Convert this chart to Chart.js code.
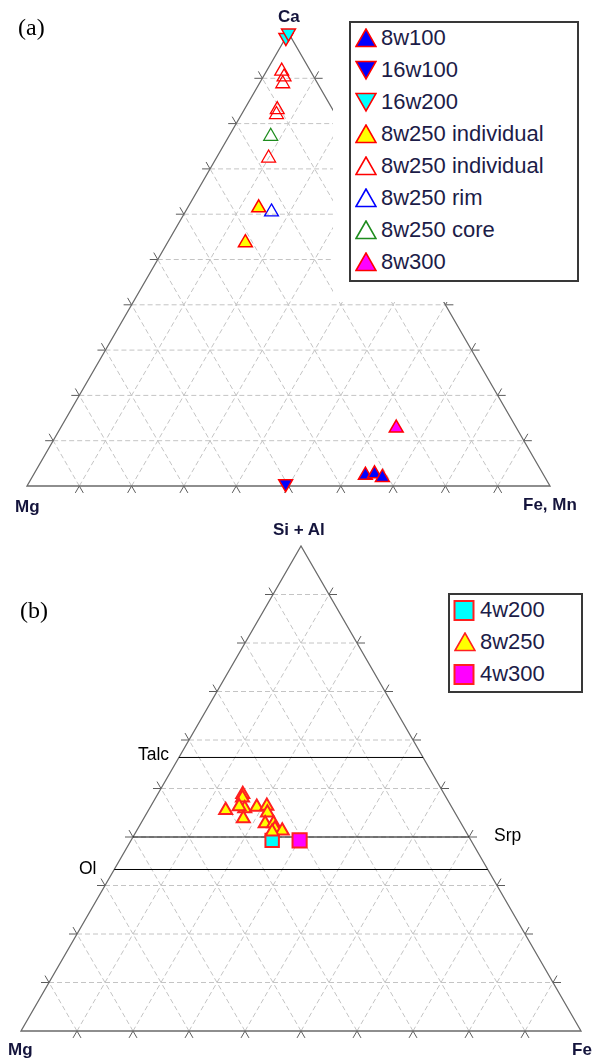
<!DOCTYPE html>
<html><head><meta charset="utf-8">
<script src="https://cdn.jsdelivr.net/npm/chart.js@4.4.1/dist/chart.umd.min.js"></script>
<style>
body{margin:0;width:598px;height:1062px;position:relative;background:#fff;overflow:hidden;font-family:"Liberation Sans",Arial,sans-serif}
canvas{position:absolute;left:0}
.lbl{position:absolute;line-height:1;white-space:nowrap}
.ax{font-weight:bold;font-size:17px;color:#14143c}
.pn{font-family:"Liberation Serif","Times New Roman",serif;font-size:24px;color:#000}
.mn{font-size:17.5px;color:#000}
.cover{position:absolute;background:#fff}
.lg{position:absolute;box-sizing:border-box;border:2px solid #383838;background:#fff}
.row{position:absolute;left:0;height:32px;line-height:32px;font-size:22px;color:#1c1c48;white-space:nowrap}
.row svg{position:absolute;top:6px}
.row span{position:absolute;left:30px;top:0}
</style></head><body>
<canvas id="ca" width="598" height="520" style="top:0"></canvas>
<canvas id="cb" width="598" height="542" style="top:520px"></canvas>

<div class="cover" style="left:333px;top:0;width:265px;height:302px"></div>
<div class="lg" id="legA" style="left:349px;top:21px;width:230px;height:261px"></div>
<div class="lg" id="legB" style="left:448px;top:593px;width:135px;height:100px"></div>

<div class="lbl pn" style="left:18px;top:15px">(a)</div>
<div class="lbl pn" style="left:20px;top:598px">(b)</div>
<div class="lbl ax" style="left:278px;top:8px">Ca</div>
<div class="lbl ax" style="left:15px;top:498px">Mg</div>
<div class="lbl ax" style="left:523px;top:496px">Fe, Mn</div>
<div class="lbl ax" style="left:273px;top:521px">Si + Al</div>
<div class="lbl ax" style="left:8px;top:1041px">Mg</div>
<div class="lbl ax" style="left:572px;top:1041px">Fe</div>
<div class="lbl mn" id="mTalc" style="left:138px;top:746px"></div>
<div class="lbl mn" id="mSrp" style="left:494px;top:827px"></div>
<div class="lbl mn" id="mOl" style="left:79px;top:860px"></div>

<script>
// ---------- DATA: diagram (a)  Ca (top) / Fe,Mn (right) fractions ----------
const seriesNamesA = ['8w100','16w100','16w200','8w250 individual','8w250 individual','8w250 rim','8w250 core','8w300'];
const ca_8w100 = [0.024, 0.027, 0.019];
const fe_8w100 = [0.635, 0.651, 0.670];
const ca_16w100 = [0.005];
const fe_16w100 = [0.492];
const ca_16w200 = [0.990, 1.000];
const fe_16w200 = [0.000, 0.000];
const ca_8w250_fill = [0.614, 0.537];
const fe_8w250_fill = [0.136, 0.149];
const ca_8w250_open = [0.916, 0.903, 0.888, 0.831, 0.820, 0.724];
const fe_8w250_open = [0.029, 0.040, 0.045, 0.063, 0.067, 0.100];
const ca_8w250_rim = [0.605];
const fe_8w250_rim = [0.165];
const ca_8w250_core = [0.772];
const fe_8w250_core = [0.080];
const ca_8w300 = [0.128];
const fe_8w300 = [0.642];

// ---------- DATA: diagram (b)  Si+Al (top) / Fe (right) fractions ----------
const seriesNamesB = ['4w200','8w250','4w300'];
const si_4w200 = [0.393];
const fe_4w200 = [0.252];
const si_8w250 = [0.488,0.481,0.455,0.459,0.463,0.438,0.462,0.464,0.450,0.428,0.428,0.417,0.413,0.411];
const fe_8w250 = [0.152,0.155,0.138,0.170,0.158,0.178,0.190,0.207,0.215,0.222,0.237,0.245,0.260,0.243];
const si_4w300 = [0.393];
const fe_4w300 = [0.301];
const mineralNames = ['Talc','Srp','Ol'];
const mineralSiAl = [0.564, 0.400, 0.333];

const gridSteps = [0.1,0.2,0.3,0.4,0.5,0.6,0.7,0.8,0.9];

// ---------- helpers ----------
const H = Math.sqrt(3)/2;
function toXY(top, right){ return {x: right + top/2, y: top*H}; }
function pts(topArr, rightArr){ return topArr.map((t,i)=>toXY(t, rightArr[i])); }

const gridPlugin = {
  id:'tgrid',
  beforeDatasetsDraw(chart){
    const ctx = chart.ctx, xs = chart.scales.x, ys = chart.scales.y;
    const P = (t,r)=>{const q = toXY(t,r); return [xs.getPixelForValue(q.x), ys.getPixelForValue(q.y)];};
    const lines = [];
    gridSteps.forEach(f=>{
      lines.push([P(f,0), P(f,1-f)]);
      lines.push([P(0,f), P(1-f,f)]);
      lines.push([P(0,1-f), P(1-f,0)]);
    });
    ctx.save();
    ctx.lineWidth = 1;
    ctx.strokeStyle = '#c4c4c4';
    ctx.setLineDash([5,3]);
    lines.forEach(([a,b])=>{ctx.beginPath();ctx.moveTo(a[0],a[1]);ctx.lineTo(b[0],b[1]);ctx.stroke();});
    ctx.setLineDash([]);
    ctx.strokeStyle = '#5c5c5c';
    const L = 8;
    lines.forEach(([a,b])=>{
      const dx=b[0]-a[0], dy=b[1]-a[1], len=Math.hypot(dx,dy), ux=dx/len, uy=dy/len;
      ctx.beginPath();
      ctx.moveTo(a[0],a[1]); ctx.lineTo(a[0]-ux*L, a[1]-uy*L);
      ctx.moveTo(b[0],b[1]); ctx.lineTo(b[0]+ux*L, b[1]+uy*L);
      ctx.stroke();
    });
    ctx.strokeStyle = '#6a6a6a';
    ctx.lineWidth = 1.3;
    const A=P(1,0), B=P(0,1), C=P(0,0);
    ctx.beginPath(); ctx.moveTo(C[0],C[1]); ctx.lineTo(A[0],A[1]); ctx.lineTo(B[0],B[1]); ctx.closePath(); ctx.stroke();
    ctx.restore();
  }
};

function ds(label, data, fill, border, opts){
  return Object.assign({label, data, backgroundColor: fill, borderColor: border, pointBackgroundColor: fill,
    pointBorderColor: border, pointStyle:'triangle', pointRotation:0, pointRadius:8, pointBorderWidth:1.5,
    showLine:false, clip:false}, opts||{});
}
function baseOptions(pad){
  return {
    responsive:false, animation:false, devicePixelRatio:1, events:[],
    layout:{padding:pad},
    scales:{
      x:{type:'linear', min:0, max:1, display:false},
      y:{type:'linear', min:0, max:H, display:false}
    },
    plugins:{legend:{display:false}, tooltip:{enabled:false}}
  };
}

// ---------- chart (a) ----------
const dsA = [
  ds(seriesNamesA[0], pts(ca_8w100, fe_8w100), '#0000ff', '#ff0000', {order:1}),
  ds(seriesNamesA[1], pts(ca_16w100, fe_16w100), '#0000ff', '#ff0000', {pointRotation:180, order:2}),
  ds(seriesNamesA[2], pts(ca_16w200, fe_16w200), '#00ffff', '#ff0000', {pointRotation:180, order:3}),
  ds(seriesNamesA[3], pts(ca_8w250_fill, fe_8w250_fill), '#ffff00', '#ff0000', {order:4}),
  ds(seriesNamesA[4], pts(ca_8w250_open, fe_8w250_open), 'rgba(0,0,0,0)', '#ff0000', {order:5, pointBorderWidth:1.3}),
  ds(seriesNamesA[5], pts(ca_8w250_rim, fe_8w250_rim), 'rgba(0,0,0,0)', '#0000ff', {order:6, pointBorderWidth:1.3}),
  ds(seriesNamesA[6], pts(ca_8w250_core, fe_8w250_core), 'rgba(0,0,0,0)', '#1e8c1e', {order:7, pointBorderWidth:1.3}),
  ds(seriesNamesA[7], pts(ca_8w300, fe_8w300), '#ff00ff', '#ff0000', {order:0})
];
new Chart(document.getElementById('ca'), {
  type:'scatter',
  data:{datasets: dsA},
  options: baseOptions({left:27, right:48, top:33, bottom:34}),
  plugins:[gridPlugin]
});

// ---------- chart (b) ----------
const mineralDs = mineralSiAl.map((s,i)=>({
  label: mineralNames[i], data:[toXY(s,0), toXY(s,1-s)], showLine:true, borderColor:'#000', borderWidth:1,
  pointRadius:0, order:20, clip:false, fill:false
}));
const dsB = [
  ds(seriesNamesB[0], pts(si_4w200, fe_4w200), '#00ffff', '#ff2020', {pointStyle:'rect', pointRadius:9.5, pointBorderWidth:2, order:2}),
  ds(seriesNamesB[1], pts(si_8w250, fe_8w250), '#ffff00', '#ff2020', {pointRadius:7.5, pointBorderWidth:2, order:1}),
  ds(seriesNamesB[2], pts(si_4w300, fe_4w300), '#ff00ff', '#ff2020', {pointStyle:'rect', pointRadius:10, pointBorderWidth:2, order:0})
].concat(mineralDs);
new Chart(document.getElementById('cb'), {
  type:'scatter',
  data:{datasets: dsB},
  options: baseOptions({left:21, right:17, top:26, bottom:31}),
  plugins:[gridPlugin]
});

// ---------- HTML legends & labels ----------
function svgMarker(kind, fill, stroke){
  let shape;
  if (kind==='up') shape = `<polygon points="1,18.5 11,1 21,18.5" fill="${fill}" stroke="${stroke}" stroke-width="1.6"/>`;
  else if (kind==='down') shape = `<polygon points="1,1.5 21,1.5 11,19" fill="${fill}" stroke="${stroke}" stroke-width="1.6"/>`;
  else shape = `<rect x="1.5" y="1" width="19" height="19" fill="${fill}" stroke="${stroke}" stroke-width="2"/>`;
  return `<svg width="22" height="21" style="left:${kind==='sq'?3:4}px">${shape}</svg>`;
}
const legAStyles = [['up','#0000ff','#ff0000'],['down','#0000ff','#ff0000'],['down','#00ffff','#ff0000'],['up','#ffff00','#ff0000'],
  ['up','none','#ff0000'],['up','none','#0000ff'],['up','none','#1e8c1e'],['up','#ff00ff','#ff0000']];
const legA = document.getElementById('legA');
seriesNamesA.forEach((n,i)=>{
  const r = document.createElement('div'); r.className='row'; r.style.top=(-1+32*i)+'px'; r.style.width='220px';
  r.innerHTML = svgMarker(...legAStyles[i]) + `<span>${n}</span>`;
  legA.appendChild(r);
});
const legBStyles = [['sq','#00ffff','#ff2020'],['up','#ffff00','#ff2020'],['sq','#ff00ff','#ff2020']];
const legB = document.getElementById('legB');
seriesNamesB.forEach((n,i)=>{
  const r = document.createElement('div'); r.className='row'; r.style.top=(-1+32*i)+'px'; r.style.width='125px';
  r.innerHTML = svgMarker(...legBStyles[i]) + `<span>${n}</span>`;
  legB.appendChild(r);
});
document.getElementById('mTalc').textContent = mineralNames[0];
document.getElementById('mSrp').textContent = mineralNames[1];
document.getElementById('mOl').textContent = mineralNames[2];
</script>
</body></html>
